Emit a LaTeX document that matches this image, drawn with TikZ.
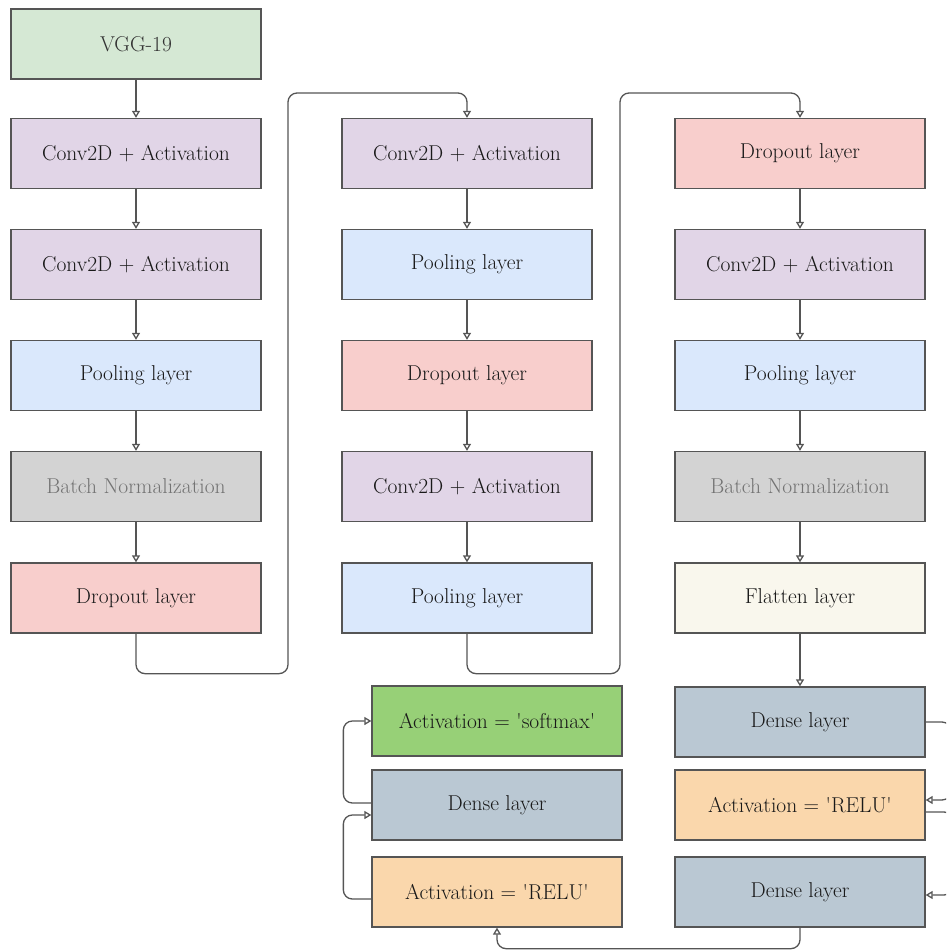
\documentclass[tikz,border=0pt]{standalone}
\usepackage{fontspec}
\usetikzlibrary{arrows.meta}
\definecolor{cgreen}{HTML}{D5E8D4}
\definecolor{cpurple}{HTML}{E1D5E7}
\definecolor{cblue}{HTML}{DAE8FC}
\definecolor{cgray}{HTML}{D3D3D3}
\definecolor{cred}{HTML}{F8CECC}
\definecolor{ccream}{HTML}{F9F7ED}
\definecolor{cdense}{HTML}{BAC8D3}
\definecolor{corange}{HTML}{FAD7AC}
\definecolor{csoft}{HTML}{97D077}
\definecolor{cline}{HTML}{555555}
\newcommand{\sq}{\textquotesingle}
\begin{document}
\begin{tikzpicture}[x=1pt,y=-1pt,
  layer/.style={draw=cline,line width=1.3pt,minimum width=250pt,minimum height=70pt,inner sep=0pt,
    font=\fontsize{21.5}{25}\selectfont,text=black!90},
  conn/.style={draw=cline,line width=1.3pt,rounded corners=9pt,-{Triangle[open,width=8pt,length=7pt]}},
  plain/.style={draw=cline,line width=1.3pt,rounded corners=9pt}]
\useasboundingbox (0,0) rectangle (946,951);
\clip (0,0) rectangle (946,951);
% column 1
\node[layer,fill=cgreen,text=black!80] (vgg) at (136,44) {VGG-19};
\node[layer,fill=cpurple] (a1) at (136,153.5) {Conv2D + Activation};
\node[layer,fill=cpurple] (a2) at (136,264.5) {Conv2D + Activation};
\node[layer,fill=cblue] (a3) at (136,375.5) {Pooling layer};
\node[layer,fill=cgray,text=black!55] (a4) at (136,486.5) {Batch Normalization};
\node[layer,fill=cred] (a5) at (136,598) {Dropout layer};
% column 2
\node[layer,fill=cpurple] (b1) at (467,153.5) {Conv2D + Activation};
\node[layer,fill=cblue] (b2) at (467,264.5) {Pooling layer};
\node[layer,fill=cred] (b3) at (467,375.5) {Dropout layer};
\node[layer,fill=cpurple] (b4) at (467,486.5) {Conv2D + Activation};
\node[layer,fill=cblue] (b5) at (467,598) {Pooling layer};
% column 3
\node[layer,fill=cred] (c1) at (800,153.5) {Dropout layer};
\node[layer,fill=cpurple] (c2) at (800,264.5) {Conv2D + Activation};
\node[layer,fill=cblue] (c3) at (800,375.5) {Pooling layer};
\node[layer,fill=cgray,text=black!55] (c4) at (800,486.5) {Batch Normalization};
\node[layer,fill=ccream] (c5) at (800,598) {Flatten layer};
% bottom right
\node[layer,fill=cdense] (d1) at (800,722) {Dense layer};
\node[layer,fill=corange] (d2) at (800,805) {Activation = \sq RELU\sq};
\node[layer,fill=cdense] (d3) at (800,892) {Dense layer};
% bottom left
\node[layer,fill=csoft] (e1) at (497,721) {Activation = \sq softmax\sq};
\node[layer,fill=cdense] (e2) at (497,805) {Dense layer};
\node[layer,fill=corange] (e3) at (497,892) {Activation = \sq RELU\sq};
% helper coordinates
\coordinate (r1) at (951,722);
\coordinate (r2) at (953,812);
% edges
\draw[conn] (vgg) -- (a1);
\draw[conn] (a1) -- (a2);
\draw[conn] (a2) -- (a3);
\draw[conn] (a3) -- (a4);
\draw[conn] (a4) -- (a5);
\draw[conn] (a5.south) -- ++(0,40) -| (288,93) -| (b1.north);
\draw[conn] (b1) -- (b2);
\draw[conn] (b2) -- (b3);
\draw[conn] (b3) -- (b4);
\draw[conn] (b4) -- (b5);
\draw[conn] (b5.south) -- ++(0,40) -| (620,93) -| (c1.north);
\draw[conn] (c1) -- (c2);
\draw[conn] (c2) -- (c3);
\draw[conn] (c3) -- (c4);
\draw[conn] (c4) -- (c5);
\draw[conn] (c5) -- (d1);
\draw[conn] (d1.east) -- (r1) |- ([yshift=5pt]d2.east);
\draw[conn] ([yshift=-7pt]d2.east) -- (r2) |- ([yshift=-3pt]d3.east);
\draw[conn] (d3.south) -- ++(0,21) -| (e3.south);
\draw[conn] ([yshift=-7pt]e3.west) -- ++(-28,0) |- ([yshift=-10pt]e2.west);
\draw[conn] ([yshift=2pt]e2.west) -- ++(-28,0) |- (e1.west);
\end{tikzpicture}
\end{document}
